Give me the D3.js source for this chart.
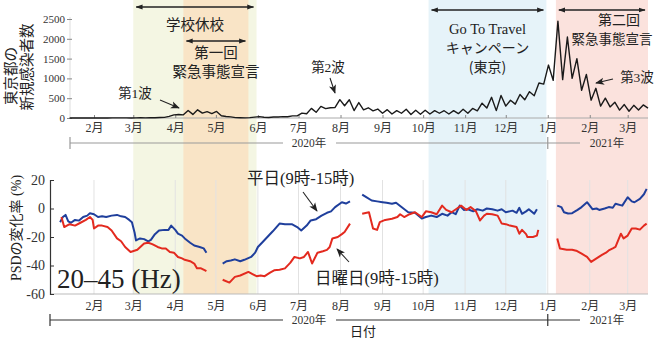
<!DOCTYPE html>
<html><head><meta charset="utf-8">
<script src="https://cdn.jsdelivr.net/npm/d3@7"></script>
<style>
html,body{margin:0;padding:0;background:#fff;}
svg{display:block;}
</style></head>
<body>
<svg id="chart" width="665" height="340"></svg>
<script>
// ---------------- DATA ----------------
// Tokyo daily new infections, sampled twice a week (every 3.5 days from casesStart)
const casesStart = "2020-01-14";
const casesStepHours = 84;
const casesValues = [
  0,0,0,1,0,1,0,1,0,2,3,2,3,1,                // Jan 14 - Feb 28
  3,5,2,5,7,11,17,40,78,89,80,                 // Mar 3 - Apr 7
  189,91,206,123,161,112,165,58,39,28,9,5,3,   // Apr 10 - May 22
  10,22,34,20,12,25,27,35,31,54,54,            // May 26 - Jun 30
  124,106,243,143,293,237,260,266,463,309,     // Jul 3 - Aug 4
  462,188,389,207,258,182,226,120,211,100,     // Aug 7 - Sep 8
  187,120,220,88,195,95,196,100,187,120,       // Sep 11 - Oct 13
  184,100,186,110,221,120,242,180,374,250,     // Oct 16 - Nov 17
  522,186,570,300,449,350,595,460,664,563,     // Nov 20 - Dec 22
  884,856,1337,950,2447,970,2044,1000,1500,700,// Dec 25 - Jan 26
  1100,450,750,300,500,280,400,200,340,170,    // Jan 29 - Mar 2
  320,200,330,250                              // Mar 5 - Mar 16
];
const casesTicks = [0,500,1000,1500,2000,2500];

// PSD change (%) 20-45 Hz; null = gap
const psdWeekday = [
  ["2020-01-07",-9.6],["2020-01-09",-6],["2020-01-11",-4.5],["2020-01-13",-9],["2020-01-15",-10],["2020-01-18",-8],["2020-01-21",-8.5],["2020-01-24",-6],["2020-01-27",-5],["2020-01-29",-3.3],["2020-02-01",-4],["2020-02-04",-6],["2020-02-07",-5.5],["2020-02-10",-6],["2020-02-14",-5],["2020-02-18",-4.5],["2020-02-21",-5.5],["2020-02-24",-6],["2020-02-27",-8],["2020-02-29",-9.6],["2020-03-02",-17],["2020-03-03",-22.4],["2020-03-06",-21],["2020-03-09",-21.5],["2020-03-12",-23],["2020-03-14",-22],["2020-03-17",-18],["2020-03-20",-15.4],["2020-03-24",-15],["2020-03-27",-15],["2020-03-29",-12],["2020-04-01",-15],["2020-04-03",-17.6],["2020-04-06",-19],["2020-04-08",-21],["2020-04-12",-24],["2020-04-15",-26],["2020-04-19",-27],["2020-04-22",-28],["2020-04-24",-31],
  null,
  ["2020-05-06",-38.6],["2020-05-09",-37],["2020-05-12",-36.5],["2020-05-15",-35.7],["2020-05-19",-37],["2020-05-22",-36],["2020-05-27",-34],["2020-05-30",-31],["2020-06-01",-27],["2020-06-04",-24],["2020-06-08",-20],["2020-06-12",-16],["2020-06-17",-10.6],["2020-06-21",-11],["2020-06-26",-11],["2020-06-30",-13],["2020-07-03",-15.4],["2020-07-07",-12],["2020-07-10",-8.4],["2020-07-14",-7.5],["2020-07-18",-5],["2020-07-22",-3],["2020-07-25",-2],["2020-07-28",1],["2020-08-02",4.4],["2020-08-05",3.5],["2020-08-08",5],
  null,
  ["2020-08-17",9.8],["2020-08-20",8],["2020-08-24",5.6],["2020-08-28",5],["2020-09-01",4.4],["2020-09-04",4],["2020-09-08",3.3],["2020-09-11",4],["2020-09-15",1],["2020-09-20",-2.6],["2020-09-25",-3],["2020-09-30",-7],["2020-10-03",-6],["2020-10-07",-5],["2020-10-11",-6],["2020-10-15",-3.7],["2020-10-19",-5],["2020-10-22",-2.6],["2020-10-25",-4],["2020-10-28",2],["2020-10-31",-1],["2020-11-03",-0.5],["2020-11-07",-2],["2020-11-10",-0.5],["2020-11-14",-1.5],["2020-11-17",0],["2020-11-21",-0.5],["2020-11-25",-1.5],["2020-11-28",-0.5],["2020-12-01",-2.6],["2020-12-06",-1.5],["2020-12-09",-3],["2020-12-11",0.5],["2020-12-13",-3.7],["2020-12-16",-2],["2020-12-18",-0.5],["2020-12-22",-3.7],["2020-12-24",-0.5],
  null,
  ["2021-01-08",2],["2021-01-11",1],["2021-01-13",-2.6],["2021-01-16",-3.5],["2021-01-19",-3.3],["2021-01-23",-1],["2021-01-26",1],["2021-01-30",4.4],["2021-02-03",-0.5],["2021-02-06",0],["2021-02-08",-1],["2021-02-12",0],["2021-02-15",1],["2021-02-18",0.5],["2021-02-20",3.3],["2021-02-25",2],["2021-03-01",7.9],["2021-03-04",5],["2021-03-06",4.4],["2021-03-10",6.8],["2021-03-13",10],["2021-03-15",13.8]
];
const psdSunday = [
  ["2020-01-08",-6],["2020-01-10",-13],["2020-01-14",-11],["2020-01-18",-12],["2020-01-22",-10],["2020-01-26",-8],["2020-01-29",-6],["2020-01-31",-8],["2020-02-01",-14],["2020-02-04",-12],["2020-02-07",-12],["2020-02-11",-13],["2020-02-14",-15.4],["2020-02-18",-21],["2020-02-21",-23],["2020-02-24",-27],["2020-02-28",-30.5],["2020-03-04",-29],["2020-03-09",-24.5],["2020-03-12",-24],["2020-03-15",-25],["2020-03-19",-27],["2020-03-22",-28],["2020-03-25",-28],["2020-03-28",-30.5],["2020-03-31",-31],["2020-04-03",-34],["2020-04-06",-35],["2020-04-08",-36],["2020-04-12",-37],["2020-04-15",-38.6],["2020-04-17",-42],["2020-04-20",-42],["2020-04-23",-43.5],["2020-04-24",-44],
  null,
  ["2020-05-06",-50],["2020-05-11",-52],["2020-05-15",-48],["2020-05-19",-47],["2020-05-25",-44.5],["2020-05-28",-46],["2020-05-31",-47.5],["2020-06-03",-47],["2020-06-06",-47.5],["2020-06-10",-45],["2020-06-13",-43.4],["2020-06-17",-43],["2020-06-21",-42],["2020-06-25",-38],["2020-06-28",-34],["2020-07-02",-35],["2020-07-05",-34],["2020-07-08",-30.5],["2020-07-11",-38.6],["2020-07-15",-31],["2020-07-19",-30],["2020-07-22",-29],["2020-07-24",-27],["2020-07-26",-21],["2020-07-30",-20],["2020-08-02",-18],["2020-08-04",-16.5],["2020-08-08",-10.6],
  null,
  ["2020-08-17",-3.7],["2020-08-22",-2.6],["2020-08-25",-14],["2020-08-28",-15],["2020-08-30",-9.6],["2020-09-03",-8],["2020-09-08",-7.2],["2020-09-12",-6],["2020-09-14",-4],["2020-09-17",-6],["2020-09-21",-4],["2020-09-25",-2.6],["2020-09-30",-6],["2020-10-03",-2],["2020-10-07",-2.6],["2020-10-11",-4],["2020-10-15",2],["2020-10-18",-1],["2020-10-22",-2.6],["2020-10-26",0],["2020-10-29",2],["2020-11-02",-1],["2020-11-05",1],["2020-11-09",-2],["2020-11-12",-8.4],["2020-11-15",-5],["2020-11-17",-3.7],["2020-11-21",-4],["2020-11-25",-5],["2020-11-28",-10.6],["2020-12-01",-11],["2020-12-04",-12],["2020-12-09",-13],["2020-12-11",-17.7],["2020-12-13",-15],["2020-12-16",-18],["2020-12-17",-20],["2020-12-21",-20],["2020-12-24",-19],["2020-12-25",-15],
  null,
  ["2021-01-08",-21],["2021-01-10",-28],["2021-01-15",-29],["2021-01-19",-29],["2021-01-22",-29.6],["2021-01-26",-31.7],["2021-01-30",-34],["2021-02-02",-37.5],["2021-02-06",-35],["2021-02-10",-32.6],["2021-02-13",-31],["2021-02-15",-29.4],["2021-02-18",-28],["2021-02-20",-27],["2021-02-24",-17.7],["2021-02-26",-21],["2021-03-01",-19],["2021-03-04",-14],["2021-03-07",-14],["2021-03-10",-14.8],["2021-03-13",-12],["2021-03-15",-10.6]
];
const psdTicks = [20,0,-20,-40,-60];

// Periods (shaded bands)
const periods = [
  {name:"school",  start:"2020-03-01", end:"2020-05-31"},
  {name:"decl1",   start:"2020-04-07", end:"2020-05-25"},
  {name:"goto",    start:"2020-10-05", end:"2020-12-31"},
  {name:"decl2",   start:"2021-01-07", end:"2021-03-16"}
];
const monthTicksRange = ["2020-02-01","2021-03-02"];
const domainRange = ["2020-01-01","2021-03-16"];

// ---------------- DRAW ----------------
const parse = d3.timeParse("%Y-%m-%d");
const svg = d3.select("#chart");
const CJK = "'Noto Sans CJK JP', sans-serif";
const SERIF = "'Liberation Serif', 'Noto Sans CJK JP', serif";

const x = d3.scaleTime().domain(domainRange.map(parse)).range([52, 648]);
const yTop = d3.scaleLinear().domain([0, 2500]).range([118, 19]);
const yBot = d3.scaleLinear().domain([-60, 20]).range([294, 180]);

const bandColor = {school:"#f4f6e3", decl1:"#f9e4c6", goto:"#e6f3f9", decl2:"#fbe2dd"};
const P = {};
periods.forEach(p => P[p.name] = {s: parse(p.start), e: parse(p.end)});

svg.append("g").selectAll("rect").data(periods).join("rect")
  .attr("x", d => x(parse(d.start)))
  .attr("width", d => x(parse(d.end)) - x(parse(d.start)))
  .attr("y", 0).attr("height", 294)
  .attr("fill", d => bandColor[d.name]);

const defs = svg.append("defs");
defs.append("marker").attr("id","ah").attr("viewBox","0 0 10 10")
  .attr("refX",9).attr("refY",5).attr("markerWidth",7).attr("markerHeight",7)
  .attr("markerUnits","userSpaceOnUse")
  .attr("orient","auto-start-reverse")
  .append("path").attr("d","M0,1.5 L10,5 L0,8.5 z").attr("fill","#222");
defs.append("marker").attr("id","ah2").attr("viewBox","0 0 10 10")
  .attr("refX",9).attr("refY",5).attr("markerWidth",9).attr("markerHeight",9)
  .attr("markerUnits","userSpaceOnUse")
  .attr("orient","auto")
  .append("path").attr("d","M0,1 L10,5 L0,9 L2.5,5 z").attr("fill","#222");

const months = d3.timeMonth.range(parse(monthTicksRange[0]), parse(monthTicksRange[1]));
const mfmt = d => (d.getMonth()+1) + "月";

// ---- TOP CHART ----
const gTop = svg.append("g");
gTop.append("line").attr("x1",70).attr("x2",648).attr("y1",118).attr("y2",118)
  .attr("stroke","#aaa").attr("stroke-width",1);
gTop.append("line").attr("x1",70).attr("x2",70).attr("y1",17).attr("y2",118)
  .attr("stroke","#ddd").attr("stroke-width",1);
const tAx = gTop.append("g").attr("transform","translate(0,118)")
  .call(d3.axisBottom(x).tickValues(months).tickSize(-3).tickPadding(5).tickFormat(mfmt));
tAx.select(".domain").remove();
tAx.selectAll(".tick line").attr("stroke","#888");
tAx.selectAll("text").attr("font-family",SERIF).attr("font-size",12).attr("fill","#333");
const tY = gTop.append("g").attr("transform","translate(67,0)")
  .call(d3.axisLeft(yTop).tickValues(casesTicks).tickSize(-5).tickPadding(2).tickFormat(d3.format("d")));
tY.select(".domain").remove();
tY.selectAll(".tick line").attr("stroke","#888");
tY.selectAll("text").attr("font-family",SERIF).attr("font-size",11).attr("fill","#333");

const t0 = parse(casesStart);
const casesData = casesValues.map((v,i) => ({date: d3.timeHour.offset(t0, i*casesStepHours), v}));
gTop.append("path").datum(casesData)
  .attr("d", d3.line().x(d => x(d.date)).y(d => yTop(d.v)))
  .attr("fill","none").attr("stroke","#1a1a1a").attr("stroke-width",1.4).attr("stroke-linejoin","round");

function yearLine(g, y, x0, color){
  const jan = parse("2021-01-01");
  g.append("line").attr("x1",x0).attr("x2",283).attr("y1",y).attr("y2",y).attr("stroke",color).attr("stroke-width",1.2);
  g.append("line").attr("x1",336).attr("x2",580).attr("y1",y).attr("y2",y).attr("stroke",color).attr("stroke-width",1.2);
  g.append("line").attr("x1",x0).attr("x2",x0).attr("y1",y-6).attr("y2",y+6).attr("stroke",color).attr("stroke-width",1.2);
  g.append("line").attr("x1",x(jan)).attr("x2",x(jan)).attr("y1",y-6).attr("y2",y+6).attr("stroke",color).attr("stroke-width",1.2);
  g.append("text").attr("x",309).attr("y",y+4).attr("text-anchor","middle")
    .attr("font-family",SERIF).attr("font-size",11.5).attr("fill","#333").text("2020年");
  g.append("text").attr("x",607).attr("y",y+4).attr("text-anchor","middle")
    .attr("font-family",SERIF).attr("font-size",11.5).attr("fill","#333").text("2021年");
}
yearLine(gTop, 143, 70, "#999");

svg.append("text").attr("transform","translate(16,76) rotate(-90)").attr("text-anchor","middle")
  .attr("font-family",CJK).attr("font-size",14.5).attr("fill","#222").text("東京都の");
svg.append("text").attr("transform","translate(32,67) rotate(-90)").attr("text-anchor","middle")
  .attr("font-family",CJK).attr("font-size",14.5).attr("fill","#222").text("新規感染者数");

function hArrow(s, e, y){
  svg.append("line").attr("x1",x(s)+3).attr("x2",x(e)-3).attr("y1",y).attr("y2",y)
    .attr("stroke","#222").attr("stroke-width",1.3)
    .attr("marker-start","url(#ah)").attr("marker-end","url(#ah)");
}
hArrow(P.school.s, P.school.e, 7);
hArrow(P.decl1.s, P.decl1.e, 41);
hArrow(P.goto.s, P.goto.e, 10);
hArrow(P.decl2.s, P.decl2.e, 10);

function txt(s, xx, yy, size, fam, anchor){
  return svg.append("text").attr("x",xx).attr("y",yy).attr("text-anchor",anchor||"middle")
    .attr("font-family",fam||CJK).attr("font-size",size).attr("fill","#222").text(s);
}
const mid = p => (x(p.s)+x(p.e))/2;
txt("学校休校", mid(P.school), 30, 14.5);
txt("第一回", mid(P.decl1), 58, 14.5);
txt("緊急事態宣言", mid(P.decl1), 77, 14.5);
txt("Go To Travel", mid(P.goto), 34, 14.5, SERIF);
txt("キャンペーン", mid(P.goto), 53, 14);
txt("(東京)", mid(P.goto), 72, 14, CJK);
txt("第二回", 619, 25, 14);
txt("緊急事態宣言", 612, 44, 13.5);
txt("第1波", 135, 98, 13.5, SERIF);
txt("第2波", 328, 72, 13.5, SERIF);
txt("第3波", 637, 82, 13.5, SERIF);

function ptr(x1,y1,x2,y2){
  svg.append("line").attr("x1",x1).attr("y1",y1).attr("x2",x2).attr("y2",y2)
    .attr("stroke","#222").attr("stroke-width",1.1).attr("marker-end","url(#ah2)");
}
ptr(160,100,179,108);
ptr(330,78,335,93);
ptr(613,79,596,83);

// ---- BOTTOM CHART ----
const gBot = svg.append("g");
gBot.append("g").selectAll("line").data(months).join("line")
  .attr("x1", d => x(d)).attr("x2", d => x(d)).attr("y1",180).attr("y2",294)
  .attr("stroke","#e2e2e2").attr("stroke-width",1);
gBot.append("line").attr("x1",50).attr("x2",648).attr("y1",294).attr("y2",294)
  .attr("stroke","#bbb").attr("stroke-width",1);
const bAx = gBot.append("g").attr("transform","translate(0,294)")
  .call(d3.axisBottom(x).tickValues(months).tickSize(0).tickPadding(7).tickFormat(mfmt));
bAx.select(".domain").remove();
bAx.selectAll("text").attr("font-family",SERIF).attr("font-size",12).attr("fill","#333");
const bY = gBot.append("g").attr("transform","translate(50,0)")
  .call(d3.axisLeft(yBot).tickValues(psdTicks).tickSize(-4).tickPadding(5).tickFormat(d => d));
bY.select(".domain").attr("stroke","#333").attr("stroke-width",1.2);
bY.selectAll(".tick line").attr("stroke","#333");
bY.selectAll("text").attr("font-family",SERIF).attr("font-size",14).attr("fill","#333");

const psdLine = d3.line().defined(d => d !== null)
  .x(d => x(parse(d[0]))).y(d => yBot(d[1]));
gBot.append("path").datum(psdWeekday).attr("d", psdLine)
  .attr("fill","none").attr("stroke","#1f3f9c").attr("stroke-width",2).attr("stroke-linejoin","round");
gBot.append("path").datum(psdSunday).attr("d", psdLine)
  .attr("fill","none").attr("stroke","#e32a1f").attr("stroke-width",2).attr("stroke-linejoin","round");

yearLine(gBot, 320, 50, "#333");
txt("日付", 363, 336, 13);

svg.append("text").attr("transform","translate(21,228) rotate(-90)").attr("text-anchor","middle")
  .attr("font-family",SERIF).attr("font-size",14).attr("fill","#222").text("PSDの変化率 (%)");

txt("20–45 (Hz)", 57, 288, 27, SERIF, "start");
txt("平日(9時-15時)", 247, 184, 16.5, SERIF, "start");
txt("日曜日(9時-15時)", 315, 284, 16.5, SERIF, "start");
ptr(303,192,317,211);
ptr(349,262,337,249);
</script>
</body></html>
